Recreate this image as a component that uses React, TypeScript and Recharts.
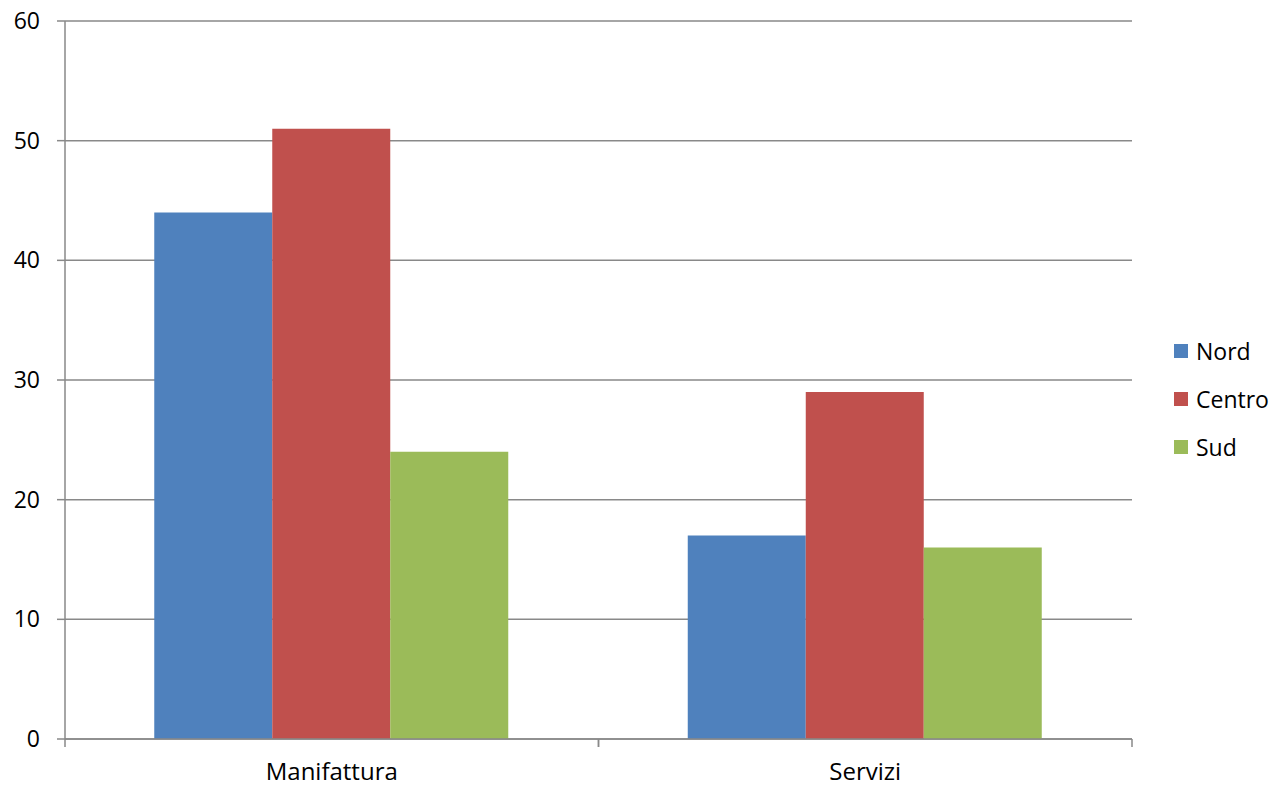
import { BarChart, Bar, XAxis, YAxis, CartesianGrid, Legend } from "recharts"

const categorie = ["Manifattura", "Servizi"]
const nord = [44, 17]
const centro = [51, 29]
const sud = [24, 16]
const yTicks = [0, 10, 20, 30, 40, 50, 60]

const serie = [
  { key: "Nord", values: nord, color: "#4F81BD" },
  { key: "Centro", values: centro, color: "#C0504D" },
  { key: "Sud", values: sud, color: "#9BBB59" },
]

const data = categorie.map((c, i) => ({
  categoria: c,
  Nord: nord[i],
  Centro: centro[i],
  Sud: sud[i],
}))

const font = "'Open Sans', Lato, sans-serif"
const grigio = "#898989"

// etichetta categoria + tacche ai bordi della categoria (come Excel)
function CategoryTick(props: any) {
  const { x, y, payload, width } = props
  const half = payload && payload.offset ? payload.offset : width / categorie.length / 2
  return (
    <g>
      <line x1={x - half} x2={x - half} y1={y - 8} y2={y} stroke={grigio} strokeWidth={1.5} />
      <line x1={x + half} x2={x + half} y1={y - 8} y2={y} stroke={grigio} strokeWidth={1.5} />
      <text x={x} y={y + 33} textAnchor="middle" fill="#000" fontSize={24} fontFamily={font}>
        {payload.value}
      </text>
    </g>
  )
}

function Legenda() {
  return (
    <div style={{ fontFamily: font, fontSize: 23, color: "#000", lineHeight: 1 }}>
      {serie.map((s) => (
        <div key={s.key} style={{ height: 48, display: "flex", alignItems: "center" }}>
          <span
            style={{
              display: "inline-block",
              width: 14,
              height: 14,
              background: s.color,
              marginRight: 8,
            }}
          />
          <span>{s.key}</span>
        </div>
      ))}
    </div>
  )
}

export default function App() {
  return (
    <div style={{ position: "absolute", left: 0, top: 0, background: "#fff" }}>
      <BarChart
        width={1272}
        height={786}
        data={data}
        margin={{ top: 21, right: 140, bottom: 0, left: 0 }}
        barCategoryGap="16.73%"
        barGap={0}
      >
        <CartesianGrid vertical={false} stroke={grigio} strokeWidth={1.5} />
        <XAxis
          dataKey="categoria"
          height={47}
          tickLine={false}
          tickSize={8}
          tickMargin={0}
          axisLine={{ stroke: grigio, strokeWidth: 1.5 }}
          tick={<CategoryTick />}
        />
        <YAxis
          width={65}
          domain={[0, 60]}
          ticks={yTicks}
          interval={0}
          tickSize={8}
          tickMargin={17}
          axisLine={{ stroke: grigio, strokeWidth: 1.5 }}
          tickLine={{ stroke: grigio, strokeWidth: 1.5 }}
          tick={{ fill: "#000", fontSize: 23, fontFamily: font }}
        />
        <Legend
          layout="vertical"
          align="center"
          verticalAlign="middle"
          content={<Legenda />}
          wrapperStyle={{ left: 1174, top: 327, width: 98, height: 144 }}
        />
        {serie.map((s) => (
          <Bar key={s.key} dataKey={s.key} fill={s.color} isAnimationActive={false} />
        ))}
      </BarChart>
    </div>
  )
}
